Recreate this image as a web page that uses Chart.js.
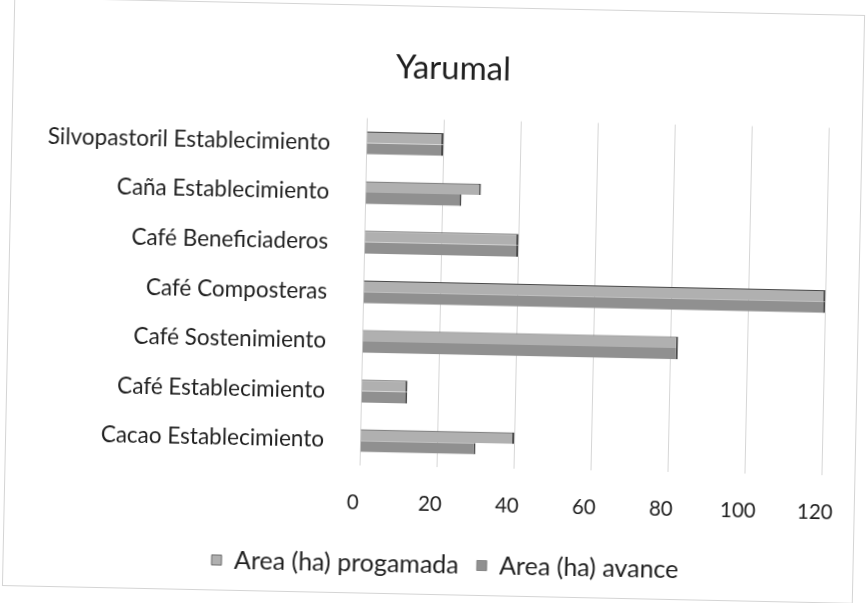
<!DOCTYPE html>
<html>
<head>
    <meta charset="utf-8">
    <title>Yarumal</title>
    <script src="https://cdn.jsdelivr.net/npm/chart.js@4.4.0/dist/chart.umd.min.js"></script>
    <style>
        body { margin: 0; background: #fff; }
        #wrap { width: 868px; height: 603px; transform: rotate(1.2deg); transform-origin: 50% 50%; }
    </style>
</head>
<body>
    <div id="wrap">
        <canvas id="myChart" width="868" height="603"></canvas>
    </div>
    <script>
        // categories listed top to bottom, as in the picture
        const categories = [
            'Silvopastoril Establecimiento',
            'Caña Establecimiento',
            'Café Beneficiaderos',
            'Café Composteras',
            'Café Sostenimiento',
            'Café Establecimiento',
            'Cacao Establecimiento'
        ];
        const programada = [20, 30, 40, 120, 82, 12, 40];
        const avance = [20, 25, 40, 120, 82, 12, 30];
        const xTicks = [0, 20, 40, 60, 80, 100, 120];

        const FONT = 'Lato, "Noto Sans", sans-serif';
        const TEXT = '#1f1f1f';

        // white page + faint frame around the chart
        const frame = {
            id: 'frame',
            beforeDraw(chart) {
                const c = chart.ctx;
                c.save();
                c.fillStyle = '#fff';
                c.fillRect(0, 0, chart.width, chart.height);
                c.strokeStyle = '#d4d4d4';
                c.lineWidth = 1;
                c.strokeRect(8.5, 6.5, 850, 588);
                c.restore();
            }
        };

        // excel centres title and legend a bit right of the canvas middle
        const nudge = {
            id: 'nudge',
            afterLayout(chart) {
                chart.titleBlock.left += 30;
                chart.titleBlock.right += 30;
                chart.legend.left += 32;
                chart.legend.right += 32;
            }
        };

        const config = {
            type: 'bar',
            data: {
                labels: categories,
                datasets: [
                    {
                        label: 'Area (ha) progamada',
                        data: programada,
                        backgroundColor: '#b0b0b0',
                        borderColor: '#4a4a4a',
                        borderWidth: { top: 1, right: 2, bottom: 0, left: 0 },
                        borderSkipped: false
                    },
                    {
                        label: 'Area (ha) avance',
                        data: avance,
                        backgroundColor: '#909090',
                        borderColor: '#4a4a4a',
                        borderWidth: { top: 0, right: 2, bottom: 0, left: 0 },
                        borderSkipped: false
                    }
                ]
            },
            options: {
                indexAxis: 'y',
                responsive: false,
                animation: false,
                categoryPercentage: 0.46,
                barPercentage: 1.0,
                layout: { padding: { left: 10, right: 41, top: 0, bottom: 16 } },
                plugins: {
                    title: {
                        display: true,
                        text: 'Yarumal',
                        color: TEXT,
                        font: { family: FONT, size: 33, weight: 'normal' },
                        padding: { top: 49, bottom: 31 }
                    },
                    legend: {
                        position: 'bottom',
                        labels: {
                            color: TEXT,
                            font: { family: FONT, size: 25 },
                            boxWidth: 10,
                            boxHeight: 10,
                            padding: 18
                        }
                    },
                    tooltip: { enabled: false }
                },
                scales: {
                    x: {
                        min: 0,
                        max: 120,
                        afterBuildTicks(axis) {
                            axis.ticks = xTicks.map(v => ({ value: v }));
                        },
                        afterFit(axis) { axis.height = 67; },
                        grid: { color: '#d6d6d6', drawTicks: false },
                        border: { display: false },
                        ticks: {
                            color: TEXT,
                            padding: 25,
                            labelOffset: -6,
                            font: { family: FONT, size: 20.5 }
                        }
                    },
                    y: {
                        afterFit(axis) { axis.width = 353; },
                        grid: { display: false },
                        border: { display: false },
                        ticks: {
                            color: TEXT,
                            padding: 28,
                            font: { family: FONT, size: 22.5 }
                        }
                    }
                }
            },
            plugins: [frame, nudge]
        };

        const myChart = new Chart(document.getElementById('myChart'), config);
    </script>
</body>
</html>
